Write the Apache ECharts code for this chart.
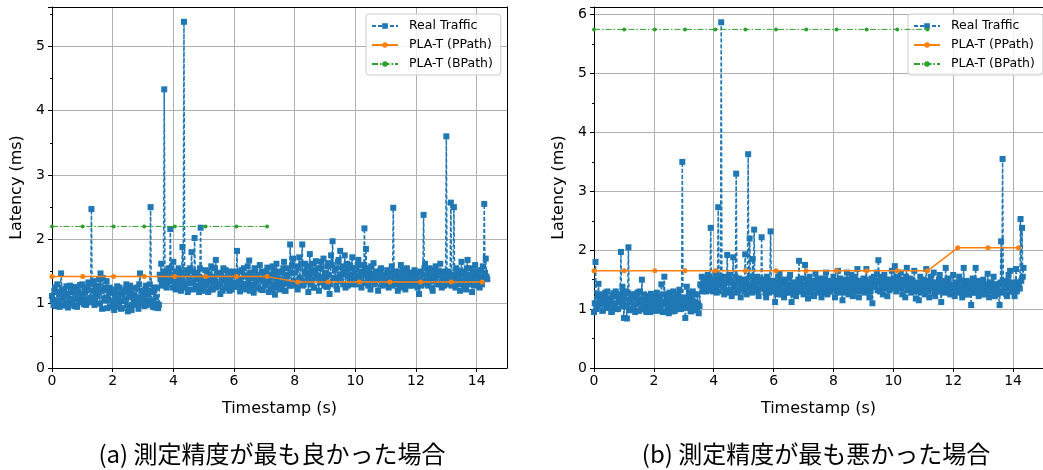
<!DOCTYPE html>
<html>
<head>
<meta charset="utf-8">
<script src="https://cdn.jsdelivr.net/npm/echarts@6/dist/echarts.min.js"></script>
<style>
html,body{margin:0;padding:0;background:#fff;}
#chart{width:1043px;height:470px;}
</style>
</head>
<body>
<div id="chart"></div>
<script>
// sampling step of the real-traffic series (seconds); "mid" arrays sit half a step later
const stepT = 0.05;

// (a) best case – real traffic latency (ms), samples at t = i*stepT
const realA = [
1.12,0.98,1.25,1.05,1.18,0.95,1.47,1.08,1.22,1.00,1.15,0.97,1.28,1.04,1.19,0.96,1.13,1.24,1.02,1.10,
1.30,0.99,1.17,1.06,1.33,1.08,2.47,1.20,0.98,1.26,1.12,1.38,1.47,0.92,1.22,1.05,1.35,1.10,1.25,0.95,
1.18,0.90,1.12,1.27,1.02,1.15,0.93,1.20,1.06,1.30,0.88,1.10,1.22,0.98,1.14,1.03,1.25,0.92,1.47,1.08,
1.12,0.96,1.28,1.05,1.20,2.50,1.00,1.18,0.94,1.25,0.93,1.45,1.62,1.35,4.33,1.48,1.30,1.55,2.16,1.38,
1.65,1.32,1.50,1.25,1.42,1.20,1.88,5.38,1.30,1.46,1.22,1.55,1.80,1.35,2.02,1.28,1.48,1.18,2.18,1.40,
1.25,1.52,1.33,1.18,1.45,1.58,1.22,1.38,1.68,1.28,1.47,1.15,1.40,1.55,1.24,1.36,1.50,1.20,1.43,1.30,
1.48,1.26,1.82,1.35,1.19,1.52,1.30,1.44,1.22,1.58,1.67,1.28,1.40,1.17,1.53,1.34,1.25,1.60,1.38,1.21,
1.45,1.30,1.56,1.18,1.40,1.25,1.50,1.14,1.62,1.33,1.22,1.48,1.36,1.65,1.20,1.42,1.55,1.92,1.28,1.70,
1.35,1.58,1.22,1.72,1.40,1.92,1.30,1.62,1.45,1.18,1.77,1.38,1.52,1.25,1.66,1.43,1.20,1.55,1.35,1.70,
1.48,1.26,1.63,1.15,1.75,1.97,1.40,1.55,1.22,1.68,1.82,1.45,1.30,1.75,1.52,1.28,1.60,1.42,1.72,1.35,
1.55,1.30,1.68,1.42,1.25,1.60,2.17,1.85,1.38,1.50,1.22,1.45,1.63,1.33,1.48,1.20,1.40,1.55,1.28,1.45,
1.35,1.52,1.25,1.42,1.58,2.49,1.30,1.45,1.20,1.50,1.60,1.32,1.44,1.22,1.55,1.38,1.28,1.48,1.35,1.52,
1.40,1.25,1.15,1.50,1.33,2.38,1.62,1.42,1.28,1.55,1.36,1.20,1.47,1.58,1.30,1.45,1.62,1.25,1.50,1.38,
3.60,1.45,1.30,2.57,1.38,2.50,1.25,1.52,1.40,1.20,1.65,1.35,1.48,1.22,1.68,1.30,1.55,1.18,1.45,1.60,
1.32,1.50,1.25,1.42,1.58,2.55,1.70,1.38
];
// (a) samples at t = i*stepT + stepT/2
const realAmid = [
1.05,1.20,0.96,1.30,1.00,1.15,1.22,0.97,1.12,1.27,0.94,1.08,1.18,1.00,1.26,1.07,0.95,1.15,1.29,1.03,
1.15,1.25,0.98,1.22,1.02,1.30,1.10,1.35,1.05,1.18,1.28,1.00,1.20,1.40,1.08,1.25,0.93,1.18,1.05,1.22,
1.02,1.20,0.95,1.08,1.25,0.92,1.15,1.04,1.22,0.97,1.18,1.28,0.90,1.12,1.24,0.99,1.10,1.30,1.00,1.20,
1.02,1.22,0.98,1.15,1.30,1.05,0.95,1.25,1.10,1.00,0.98,1.38,1.28,1.50,1.40,1.25,1.45,1.35,1.55,1.25,
1.45,1.22,1.38,1.55,1.30,1.48,1.35,1.25,1.52,1.18,1.40,1.32,1.50,1.22,1.45,1.38,1.26,1.55,1.32,1.20,
1.40,1.28,1.50,1.35,1.22,1.42,1.32,1.55,1.25,1.45,1.30,1.48,1.20,1.38,1.52,1.28,1.42,1.35,1.22,1.50,
1.32,1.45,1.28,1.50,1.38,1.25,1.55,1.30,1.42,1.35,1.20,1.48,1.30,1.55,1.25,1.45,1.38,1.22,1.50,1.35,
1.28,1.50,1.35,1.45,1.22,1.58,1.30,1.42,1.25,1.50,1.38,1.28,1.55,1.20,1.45,1.32,1.28,1.48,1.60,1.35,
1.48,1.30,1.55,1.40,1.62,1.28,1.50,1.35,1.58,1.45,1.30,1.62,1.25,1.48,1.40,1.55,1.33,1.65,1.42,1.28,
1.38,1.58,1.45,1.30,1.60,1.40,1.52,1.28,1.65,1.42,1.35,1.58,1.48,1.25,1.62,1.45,1.38,1.55,1.30,1.50,
1.42,1.60,1.35,1.50,1.48,1.32,1.45,1.55,1.28,1.42,1.58,1.35,1.30,1.50,1.38,1.45,1.52,1.30,1.42,1.35,
1.45,1.30,1.48,1.35,1.28,1.42,1.50,1.32,1.40,1.25,1.45,1.38,1.52,1.30,1.42,1.48,1.35,1.28,1.45,1.40,
1.32,1.48,1.38,1.28,1.45,1.55,1.35,1.30,1.48,1.40,1.25,1.52,1.35,1.42,1.50,1.30,1.45,1.38,1.28,1.48,
1.35,1.50,1.42,1.28,1.45,1.38,1.55,1.30,1.45,1.35,1.50,1.28,1.40,1.55,1.32,1.45,1.38,1.50,1.28,1.42,
1.45,1.35,1.52,1.30,1.40,1.48,1.42
];

// (b) worst case – real traffic latency (ms), samples at t = i*stepT
const realB = [
0.95,1.80,1.05,1.43,1.15,1.25,0.98,1.20,1.08,1.30,1.02,1.18,0.96,1.27,1.10,1.22,1.00,1.15,1.97,1.38,
0.85,1.30,0.84,2.05,1.12,1.25,1.00,1.20,1.08,1.28,0.97,1.15,1.50,1.05,1.22,0.95,1.18,1.03,1.26,0.97,
1.22,0.98,1.28,1.05,1.15,1.42,0.95,1.55,1.10,1.25,0.93,1.18,1.05,1.30,0.97,1.20,1.08,1.33,1.00,3.50,
1.10,0.85,1.38,1.05,1.22,0.96,1.30,1.12,1.02,1.25,0.93,1.42,1.55,1.35,1.48,1.30,1.58,1.38,2.38,1.45,
1.35,1.60,1.28,2.73,1.50,5.87,1.40,1.25,1.55,1.92,1.32,1.48,1.22,1.88,1.42,3.30,1.30,1.52,1.20,1.45,
1.38,1.93,1.25,3.63,2.20,1.40,1.85,2.35,1.30,1.55,1.22,1.45,2.22,1.35,1.50,1.20,1.42,1.28,2.32,1.38,
1.48,1.12,1.30,1.55,1.60,1.25,1.42,1.20,1.50,1.35,1.28,1.58,1.12,1.45,1.32,1.22,1.40,1.82,1.30,1.52,
1.25,1.75,1.40,1.18,1.55,1.32,1.48,1.22,1.60,1.38,1.28,1.52,1.20,1.45,1.35,1.62,1.25,1.48,1.30,1.42,
1.55,1.20,1.38,1.65,1.28,1.45,1.15,1.50,1.35,1.62,1.25,1.42,1.58,1.22,1.48,1.33,1.68,1.20,1.45,1.30,
1.52,1.28,1.68,1.35,1.20,1.45,1.10,1.55,1.38,1.62,1.83,1.30,1.48,1.25,1.58,1.40,1.22,1.50,1.35,1.65,
1.45,1.73,1.30,1.55,1.38,1.62,1.25,1.48,1.20,1.70,1.35,1.52,1.28,1.45,1.65,1.18,1.40,1.15,1.55,1.32,
1.50,1.25,1.68,1.38,1.20,1.55,1.35,1.62,1.22,1.45,1.30,1.58,1.12,1.48,1.28,1.70,1.35,1.52,1.25,1.42,
1.58,1.22,1.45,1.30,1.55,1.38,1.20,1.70,1.32,1.48,1.25,1.40,1.07,1.52,1.28,1.70,1.35,1.22,1.45,1.30,
1.50,1.25,1.38,1.60,1.20,1.45,1.32,1.55,1.22,1.42,1.28,1.07,2.15,3.55,1.35,1.48,1.22,1.58,1.65,1.30,
1.45,1.22,1.68,1.35,1.45,2.53,2.38,1.70
];
// (b) samples at t = i*stepT + stepT/2
const realBmid = [
1.10,1.00,1.25,1.08,1.20,0.97,1.15,1.28,1.02,1.18,1.10,0.95,1.22,1.05,1.30,1.00,1.12,1.25,1.05,1.15,
1.20,1.05,1.28,0.98,1.15,1.25,1.05,0.95,1.22,1.12,1.30,1.00,1.15,1.25,0.98,1.10,1.22,0.95,1.12,1.20,
1.05,1.15,0.97,1.22,1.00,1.10,1.25,0.95,1.18,1.02,1.28,1.08,0.96,1.20,1.12,1.00,1.25,1.05,1.15,1.05,
1.20,1.02,1.12,1.28,0.97,1.15,1.05,1.25,0.98,1.10,1.05,1.40,1.30,1.52,1.38,1.45,1.32,1.50,1.40,1.30,
1.50,1.38,1.45,1.30,1.55,1.42,1.35,1.50,1.28,1.45,1.58,1.32,1.45,1.38,1.55,1.28,1.45,1.35,1.50,1.40,
1.30,1.50,1.42,1.35,1.55,1.28,1.45,1.38,1.52,1.30,1.45,1.35,1.50,1.42,1.28,1.55,1.35,1.48,1.40,1.30,
1.38,1.45,1.25,1.40,1.35,1.50,1.30,1.45,1.28,1.42,1.52,1.30,1.38,1.25,1.45,1.35,1.50,1.30,1.42,1.38,
1.40,1.32,1.50,1.28,1.42,1.38,1.25,1.45,1.35,1.50,1.30,1.42,1.38,1.28,1.52,1.35,1.40,1.30,1.45,1.38,
1.35,1.48,1.30,1.42,1.52,1.35,1.40,1.28,1.45,1.38,1.50,1.32,1.42,1.35,1.55,1.30,1.40,1.48,1.35,1.42,
1.40,1.50,1.35,1.45,1.30,1.52,1.38,1.42,1.48,1.32,1.45,1.55,1.38,1.42,1.35,1.50,1.45,1.32,1.48,1.40,
1.52,1.38,1.45,1.42,1.50,1.35,1.48,1.40,1.55,1.32,1.45,1.38,1.50,1.35,1.42,1.30,1.45,1.38,1.28,1.42,
1.35,1.45,1.40,1.30,1.48,1.38,1.45,1.28,1.42,1.35,1.50,1.30,1.40,1.38,1.45,1.32,1.42,1.28,1.40,1.35,
1.38,1.30,1.45,1.35,1.28,1.48,1.32,1.40,1.25,1.42,1.35,1.30,1.45,1.28,1.40,1.35,1.48,1.30,1.38,1.25,
1.35,1.42,1.28,1.38,1.45,1.30,1.40,1.25,1.42,1.35,1.30,1.45,1.28,1.40,1.38,1.25,1.45,1.35,1.40,1.30,
1.38,1.45,1.30,1.42,1.35,1.48,1.55
];

// PLA-T estimation time points (s)
const plaT = [0, 1.01, 2.03, 3.04, 4.05, 5.06, 6.08, 7.09, 8.10, 9.11, 10.13, 11.14, 12.15, 13.16, 14.18];
const ppathA = [1.42,1.42,1.42,1.42,1.42,1.42,1.42,1.42,1.335,1.335,1.335,1.335,1.335,1.335,1.335];
const bpathA = [2.2,2.2,2.2,2.2,2.2,2.2,2.2,2.2];
const ppathB = [1.65,1.65,1.65,1.65,1.65,1.65,1.65,1.65,1.65,1.65,1.65,1.65,2.04,2.04,2.04];
const bpathB = [5.75,5.75,5.75,5.75,5.75,5.75,5.75,5.75,5.75,5.75,5.75,5.75];

const xTicks = [0, 2, 4, 6, 8, 10, 12, 14];
const captions = ['(a) 測定精度が最も良かった場合', '(b) 測定精度が最も悪かった場合'];
const seriesNames = ['Real Traffic', 'PLA-T (PPath)', 'PLA-T (BPath)'];

const FONT = 'DejaVu Sans';
const C_BLUE = '#1f77b4', C_ORANGE = '#ff7f0e', C_GREEN = '#2ca02c';

const r2 = v => Math.round(v * 1000) / 1000;
const toPairs = (xs, ys) => ys.map((v, i) => [xs[i], v]);
function realPairs(main, mid) {
  const out = [];
  main.forEach((v, i) => {
    out.push([r2(i * stepT), v]);
    if (i < mid.length) out.push([r2(i * stepT + stepT / 2), mid[i]]);
  });
  return out;
}

const grids = [
  {left: 52, top: 7, width: 455, height: 361},
  {left: 594, top: 7, width: 454, height: 361}
];
const yMax = [5.61, 6.13];

function mkX(gi) {
  return [{
    type: 'value', gridIndex: gi, min: 0, max: 15, interval: 2,
    name: 'Timestamp (s)', nameLocation: 'middle', nameGap: 33,
    nameTextStyle: {fontFamily: FONT, fontSize: 16, color: '#000'},
    axisLine: {show: true, onZero: false, lineStyle: {color: '#000', width: 1}},
    axisTick: {show: true, length: 4, lineStyle: {color: '#000'}},
    axisLabel: {show: true, margin: 6, fontFamily: FONT, fontSize: 14, color: '#000',
      showMaxLabel: false, formatter: v => xTicks.includes(v) ? String(v) : ''},
    splitLine: {show: true, lineStyle: {color: '#b0b0b0', width: 1}}
  }, {
    type: 'value', gridIndex: gi, position: 'top', min: 0, max: 15,
    axisLine: {show: true, onZero: false, lineStyle: {color: '#000', width: 1}},
    axisTick: {show: false}, axisLabel: {show: false}, splitLine: {show: false}
  }];
}
function mkY(gi) {
  return [{
    type: 'value', gridIndex: gi, min: 0, max: yMax[gi], interval: 1,
    name: 'Latency (ms)', nameLocation: 'middle', nameGap: 27,
    nameTextStyle: {fontFamily: FONT, fontSize: 16, color: '#000'},
    axisLine: {show: true, onZero: false, lineStyle: {color: '#000', width: 1}},
    axisTick: {show: true, length: 4, lineStyle: {color: '#000'}},
    minorTick: {show: true, splitNumber: 2, length: 2, lineStyle: {color: '#000'}},
    axisLabel: {show: true, margin: 7, fontFamily: FONT, fontSize: 14, color: '#000', showMaxLabel: false},
    splitLine: {show: true, lineStyle: {color: '#b0b0b0', width: 1}}
  }, {
    type: 'value', gridIndex: gi, position: 'right', min: 0, max: yMax[gi],
    axisLine: {show: true, onZero: false, lineStyle: {color: '#000', width: 1}},
    axisTick: {show: false}, axisLabel: {show: false}, splitLine: {show: false}
  }];
}

function mkSeries(gi, real, realMid, pp, bp) {
  return [{
    name: seriesNames[0], type: 'line', xAxisIndex: gi * 2, yAxisIndex: gi * 2,
    data: realPairs(real, realMid), symbol: 'rect', symbolSize: 6,
    itemStyle: {color: C_BLUE},
    lineStyle: {color: C_BLUE, width: 1.5, type: [4, 2]},
    animation: false, z: 2
  }, {
    name: seriesNames[1], type: 'line', xAxisIndex: gi * 2, yAxisIndex: gi * 2,
    data: toPairs(plaT, pp), symbol: 'circle', symbolSize: 5,
    itemStyle: {color: C_ORANGE},
    lineStyle: {color: C_ORANGE, width: 1.5, type: 'solid'},
    animation: false, z: 3
  }, {
    name: seriesNames[2], type: 'line', xAxisIndex: gi * 2, yAxisIndex: gi * 2,
    data: toPairs(plaT, bp), symbol: 'circle', symbolSize: 4,
    itemStyle: {color: C_GREEN},
    lineStyle: {color: C_GREEN, width: 1, type: [6, 2, 1.5, 2]},
    animation: false, z: 4
  }];
}

function mkLegend(left) {
  return {
    orient: 'vertical', left: left, top: 14, itemGap: 5, itemWidth: 26, itemHeight: 7,
    padding: [5, 8, 4, 5],
    backgroundColor: 'rgba(255,255,255,0.8)', borderColor: '#cccccc', borderWidth: 1, borderRadius: 3,
    textStyle: {fontFamily: FONT, fontSize: 12.5, color: '#000', lineHeight: 14, padding: [0, 0, 0, 6]},
    data: seriesNames
  };
}

const capStyle = {fontFamily: 'Noto Sans CJK JP', fontSize: 24, fontWeight: 'normal', color: '#000'};

const chart = echarts.init(document.getElementById('chart'), null, {renderer: 'canvas'});
chart.setOption({
  animation: false,
  backgroundColor: '#fff',
  grid: grids,
  xAxis: [...mkX(0), ...mkX(1)],
  yAxis: [...mkY(0), ...mkY(1)],
  legend: [mkLegend(366), mkLegend(908)],
  title: [
    {text: captions[0], left: 267, top: 437, textAlign: 'center', textStyle: capStyle},
    {text: captions[1], left: 811, top: 437, textAlign: 'center', textStyle: capStyle}
  ],
  series: [...mkSeries(0, realA, realAmid, ppathA, bpathA), ...mkSeries(1, realB, realBmid, ppathB, bpathB)]
});
</script>
</body>
</html>
